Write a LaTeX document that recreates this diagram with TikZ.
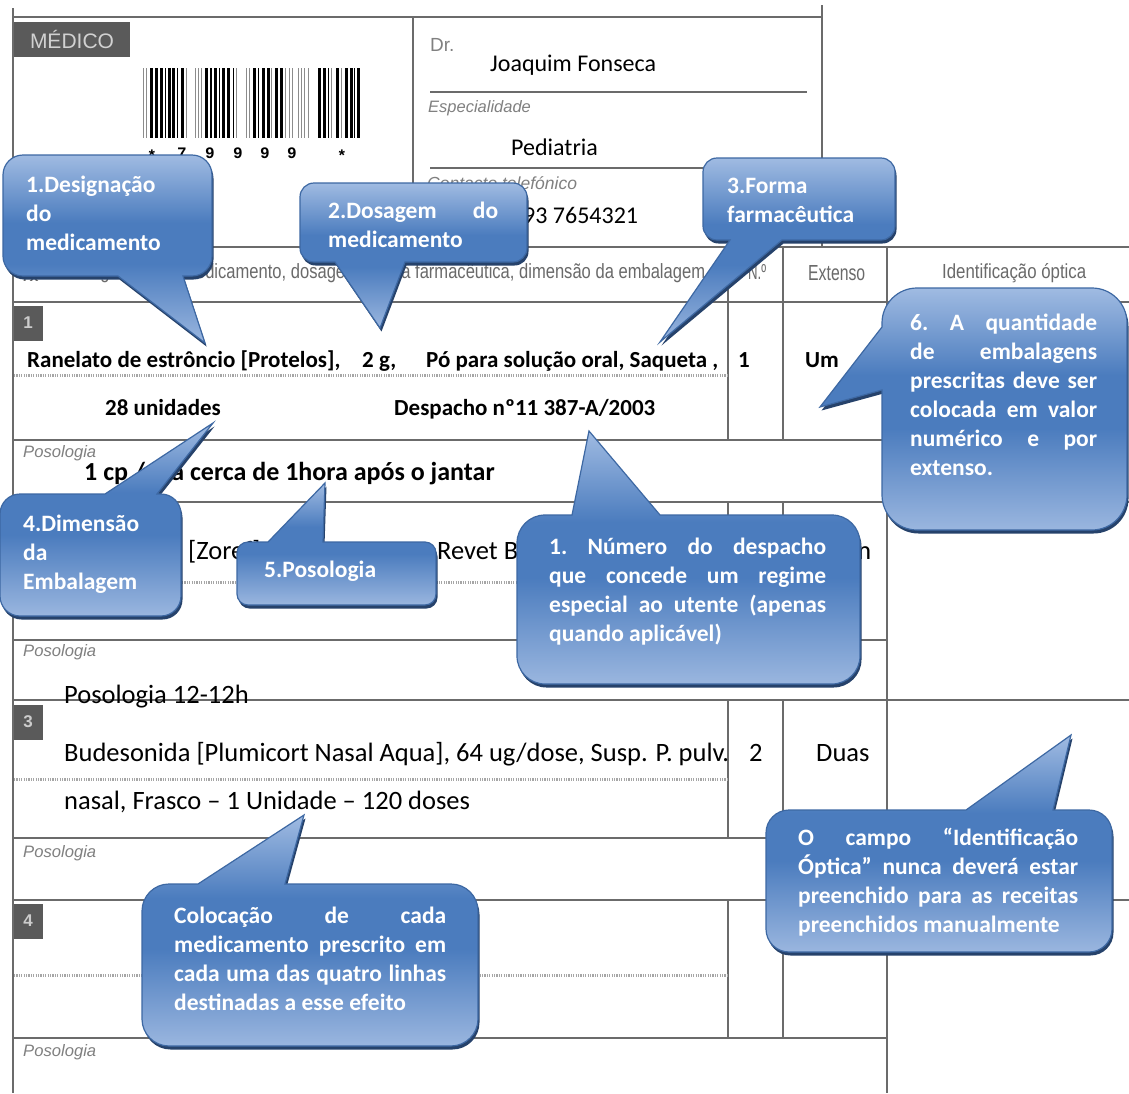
\documentclass[tikz,border=0pt]{standalone}
\usepackage{fontspec}
\setmainfont{Carlito}
\newfontfamily\scanfont{Liberation Sans}
\newfontfamily\symfont{DejaVu Sans}
\newfontfamily\codefont{Liberation Mono}
\usetikzlibrary{shadows}

\definecolor{formline}{HTML}{6B6B6B}
\definecolor{scangray}{HTML}{808080}
\definecolor{headgray}{HTML}{6A6A6A}
\definecolor{boxgray}{HTML}{5A5A5A}
\definecolor{cTop}{HTML}{A0BBE2}
\definecolor{cMid}{HTML}{4B7CBE}
\definecolor{cBot}{HTML}{9AB6DF}
\definecolor{cBorder}{HTML}{3D68A3}
\definecolor{cShadow}{HTML}{26426B}

\pgfdeclareverticalshading{bubbleshade}{100bp}{color(0bp)=(cBot); color(25bp)=(cBot); color(46bp)=(cMid); color(57bp)=(cMid); color(75bp)=(cTop); color(100bp)=(cTop)}

\tikzset{
  formln/.style={draw=formline, line width=2.2pt},
  dotln/.style={draw=black!35, line width=3pt, dash pattern=on 1.2pt off 1.2pt},
  bubble/.style={shading=bubbleshade, draw=cBorder, line width=1.2pt,
     drop shadow={shadow xshift=1.5pt, shadow yshift=-3.5pt, fill=cShadow, opacity=1}},
  btext/.style={font=\bfseries\fontsize{23.5}{29}\selectfont\frenchspacing, text=white, inner sep=0pt, anchor=base west},
  filltxt/.style={font=\fontsize{26.5}{32}\selectfont, inner sep=0pt, anchor=base west},
  toptxt/.style={font=\fontsize{24}{29}\selectfont, inner sep=0pt, anchor=base west},
  rowtxt/.style={font=\bfseries\fontsize{23}{28}\selectfont, inner sep=0pt, anchor=base west},
  scanlbl/.style={font=\scanfont\fontsize{19}{19}\selectfont, text=scangray, inner sep=0pt, anchor=west},
  numbox/.style={fill=boxgray, text=black!20, font=\scanfont\bfseries\fontsize{17}{17}\selectfont, minimum width=29pt, minimum height=35pt, inner sep=0pt},
  bardigit/.style={font=\codefont\bfseries\fontsize{16}{16}\selectfont, inner sep=0pt},
}

% callouts: x1 y1 x2 y2 r, pointer base a, base b, tip x, tip y
\newcommand\bubT[9]{\path[bubble] (#1+#5,#2) -- (#6,#2) -- (#8,#9) -- (#7,#2) -- (#3-#5,#2) arc[start angle=270,end angle=360,radius=#5] -- (#3,#4-#5) arc[start angle=0,end angle=90,radius=#5] -- (#1+#5,#4) arc[start angle=90,end angle=180,radius=#5] -- (#1,#2+#5) arc[start angle=180,end angle=270,radius=#5] -- cycle;}
\newcommand\bubB[9]{\path[bubble] (#1+#5,#2) -- (#3-#5,#2) arc[start angle=270,end angle=360,radius=#5] -- (#3,#4-#5) arc[start angle=0,end angle=90,radius=#5] -- (#7,#4) -- (#8,#9) -- (#6,#4) -- (#1+#5,#4) arc[start angle=90,end angle=180,radius=#5] -- (#1,#2+#5) arc[start angle=180,end angle=270,radius=#5] -- cycle;}
\newcommand\bubL[9]{\path[bubble] (#1+#5,#2) -- (#3-#5,#2) arc[start angle=270,end angle=360,radius=#5] -- (#3,#4-#5) arc[start angle=0,end angle=90,radius=#5] -- (#1+#5,#4) arc[start angle=90,end angle=180,radius=#5] -- (#1,#6) -- (#8,#9) -- (#1,#7) -- (#1,#2+#5) arc[start angle=180,end angle=270,radius=#5] -- cycle;}
\newcommand\blines[4]{\foreach \bl [count=\ii] in {#4} {\node[btext] (#1\ii) at (#2,#3+29*\ii-29) {\bl};}}

\begin{document}
\begin{tikzpicture}[x=1pt,y=-1pt]
\useasboundingbox (0,0) rectangle (1129,1093);
\fill[white] (0,0) rectangle (1129,1093);

% ---- form frame ----
\draw[formln] (13,8) -- (13,1093);
\draw[formln] (13,17) -- (822,17);
\draw[formln] (822,5) -- (822,247);
\draw[formln] (413,17) -- (413,247);
\draw[formln, line width=1.5pt] (430,92) -- (807,92);
\draw[formln, line width=1.5pt] (430,168) -- (807,168);
\draw[formln] (13,247) -- (1129,247);
\draw[formln] (13,302) -- (1129,302);
\foreach \y in {440,640,838,1038} \draw[formln] (13,\y) -- (887,\y);
\foreach \y in {502,700,900} \draw[formln] (13,\y) -- (1129,\y);
\foreach \a/\b in {247/440,502/640,700/838,900/1038} {\draw[formln] (728,\a) -- (728,\b); \draw[formln] (783,\a) -- (783,\b);}
\draw[formln] (887,247) -- (887,1093);
\foreach \y in {375,582,779,975} \draw[dotln] (14,\y) -- (728,\y);

% ---- scanned labels ----
\node[fill=boxgray, text=black!18, font=\scanfont\fontsize{21}{21}\selectfont, minimum width=116pt, minimum height=35pt, inner sep=0pt] (medico) at (72,39.5) {MÉDICO};
\node[scanlbl] (dr) at (430,45) {Dr.};
\node[scanlbl, font=\scanfont\itshape\fontsize{16.5}{16.5}\selectfont] (esp) at (428,108) {Especialidade};
\node[scanlbl, font=\scanfont\itshape\fontsize{17.5}{17.5}\selectfont] (cont) at (427,183) {Contacto telefónico};
\node[scanlbl, text=headgray, font=\symfont\fontsize{20}{20}\selectfont] (rx) at (22,274) {℞};
\node[scanlbl, text=headgray] (hd) at (67,273) {\resizebox{638pt}{15pt}{Designação do medicamento, dosagem, forma farmacêutica, dimensão da embalagem}};
\node[scanlbl, text=headgray] (hn) at (748,272) {\resizebox{18pt}{15pt}{N.º}};
\node[scanlbl, text=headgray] (hx) at (808,273) {\resizebox{57pt}{15pt}{Extenso}};
\node[scanlbl, text=headgray] (hi) at (942,273) {\resizebox{144pt}{15pt}{Identificação óptica}};
\foreach \y [count=\ii] in {453,652,853,1052} \node[scanlbl] (pos\ii) at (23,\y) {\resizebox{73pt}{12pt}{\itshape Posologia}};
\node[numbox] (nb1) at (28,323) {1};
\node[numbox] (nb3) at (28,722) {3};
\node[numbox] (nb4) at (28,921) {4};

% ---- barcode ----
\foreach \x/\w/\c in {143/1.2/black!45,146/1.2/black!45,150/3/black,155/2.5/black,160/3/black,165/1.2/black,168/3/black,172/3/black,177/1.2/black,181/3/black,186/1.2/black!45,
  195/1.2/black!45,198/1.2/black!45,201/1.2/black!45,205/3/black,210/2/black,214/3/black,219/1.2/black,222/3/black,227/2.5/black,233/1.2/black,236/1.2/black!45,
  246/1.2/black!45,249/1.2/black!45,253/3/black,258/1.2/black,262/3/black,267/2.5/black,271/1.2/black!45,275/3/black,280/2.5/black,285/1.2/black!45,289/1.2/black!45,292/1.2/black!45,
  298/1.2/black!45,301/1.2/black!45,304/1.2/black!45,308/1.2/black!45,318/3/black,323/3/black,328/1.2/black,331/1.2/black!45,336/3/black,341/1.2/black!45,
  345/3/black,350/2.5/black,354/1.2/black,357/3/black}
  \fill[\c] (\x,68) rectangle ({\x+\w},138);
\foreach \x/\t [count=\ii] in {182/7,210/9,238/9,265/9,292/9} \node[bardigit] (bd\ii) at (\x,153) {\t};
\node[bardigit] (bs1) at (152,156) {*};
\node[bardigit] (bs2) at (342,156) {*};

% ---- filled-in text ----
\node[toptxt] (jf) at (490,71) {Joaquim Fonseca};
\node[toptxt] (ped) at (511,155) {Pediatria};
\node[toptxt] (tel) at (523,223) {93 7654321};
\node[rowtxt] (r1a) at (27,367) {Ranelato de estrôncio [Protelos],};
\node[rowtxt] (r1b) at (362,367) {2 g,};
\node[rowtxt] (r1c) at (426,367) {Pó para solução oral, Saqueta ,};
\node[rowtxt] (r1d) at (738,367) {1};
\node[rowtxt] (r1e) at (805,367) {Um};
\node[rowtxt] (r1f) at (105,415) {28 unidades};
\node[rowtxt] (r1g) at (394,415) {Despacho nº11 387-A/2003};
\node[rowtxt, font=\bfseries\fontsize{26}{30}\selectfont] (p1) at (84,480) {1 cp / dia cerca de 1hora após o jantar};
\node[filltxt] (r2a) at (188,559) {[Zoref]};
\node[filltxt] (r2b) at (437,559) {Revet B};
\node[filltxt] (r2c) at (833,559) {Um};
\node[filltxt] (p2) at (64,703) {Posologia 12-12h};
\node[filltxt] (r3a) at (64,761) {Budesonida [Plumicort Nasal Aqua], 64 ug/dose, Susp. P. pulv.};
\node[filltxt] (r3b) at (749,761) {2};
\node[filltxt] (r3c) at (816,761) {Duas};
\node[filltxt] (r3d) at (64,809) {nasal, Frasco – 1 Unidade – 120 doses};

% ---- callouts ----
\bubB{3}{155}{212}{276}{20}{118}{183}{205}{343}
\bubB{300}{183}{527}{262}{14}{335}{405}{380}{328}
\bubB{703}{158}{895}{240}{14}{730}{782}{660}{342}
\bubT{0}{494}{181}{616}{20}{105}{157}{213}{423}
\bubT{237}{542}{436}{605}{11}{268}{323}{325}{483}
\bubT{517}{515}{860}{684}{28}{572}{660}{589}{431}
\bubL{882}{288}{1127}{530}{35}{390}{327}{820}{407}
\bubT{142}{884}{478}{1046}{27}{198}{285}{304}{815}
\bubT{766}{810}{1112}{952}{23}{966}{1053}{1071}{735}

\blines{tA}{26}{192.5}{{1.Designação},{do},{medicamento}}
\blines{tB}{328}{218.5}{{\makebox[170pt][s]{2.Dosagem do}},{medicamento}}
\blines{tC}{727}{193.5}{{3.Forma},{farmacêutica}}
\blines{tD}{23}{531.5}{{4.Dimensão},{da},{Embalagem}}
\blines{tE}{264}{577.5}{{5.Posologia}}
\blines{tF}{549}{554.5}{{\makebox[277pt][s]{1. Número do despacho}},{\makebox[277pt][s]{que concede um regime}},{\makebox[277pt][s]{especial ao utente (apenas}},{quando aplicável)}}
\blines{tG}{910}{330.5}{{\makebox[187pt][s]{6. A quantidade}},{\makebox[187pt][s]{de embalagens}},{\makebox[187pt][s]{prescritas deve ser}},{\makebox[187pt][s]{colocada em valor}},{\makebox[187pt][s]{numérico e por}},{extenso.}}
\blines{tH}{174}{923.5}{{\makebox[272pt][s]{Colocação de cada}},{\makebox[272pt][s]{medicamento prescrito em}},{\makebox[272pt][s]{cada uma das quatro linhas}},{destinadas a esse efeito}}
\blines{tI}{798}{845.5}{{\makebox[280pt][s]{O campo “Identificação}},{\makebox[280pt][s]{Óptica” nunca deverá estar}},{\makebox[280pt][s]{preenchido para as receitas}},{preenchidos manualmente}}
\end{tikzpicture}
\end{document}
